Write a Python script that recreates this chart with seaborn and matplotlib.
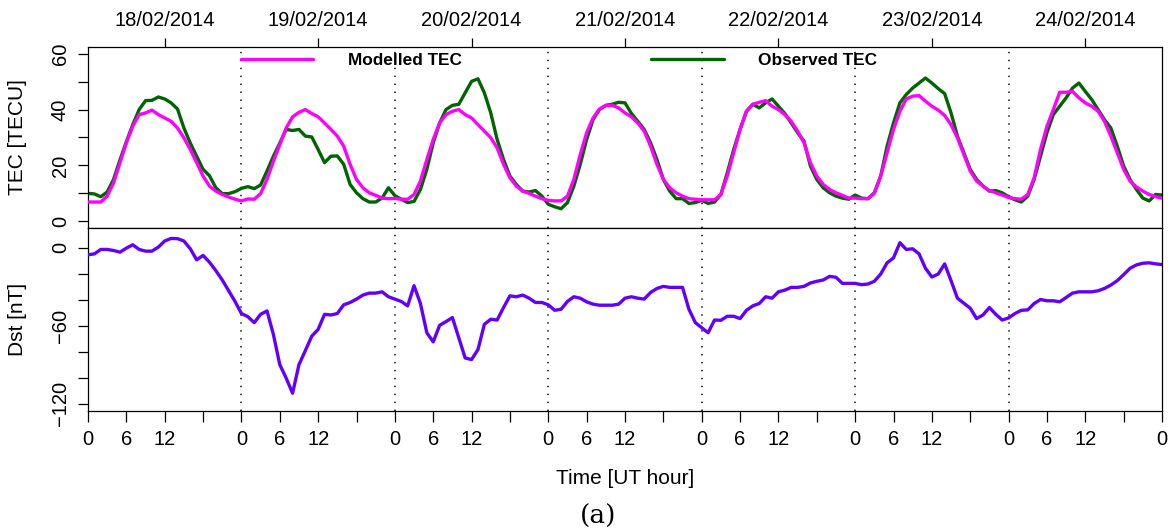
import numpy as np
import pandas as pd
import matplotlib
matplotlib.use("Agg")
import matplotlib.pyplot as plt
import seaborn as sns

# ---------------- data ----------------
dates = ["18/02/2014", "19/02/2014", "20/02/2014", "21/02/2014",
         "22/02/2014", "23/02/2014", "24/02/2014"]
hours = list(range(0, 169))  # hourly samples, 7 days

observed_tec = [
    10, 9.8, 8.8, 10.5, 15, 22, 28.5, 34.6, 40, 43.2, 43.3, 44.5, 43.8, 42.4, 40.2, 33.4, 28, 23.3, 18.6, 16.3, 12, 9.9, 9.9, 10.6,
    11.8, 12.4, 11.7, 13, 18, 23.3, 28, 32.9, 32.5, 32.9, 30.5, 30.2, 25.7, 21, 23.3, 23.4, 20.4, 13.2, 10.2, 8.1, 6.9, 6.9, 8.3, 12,
    9.2, 7.9, 6.7, 7.1, 11.4, 18.6, 28.1, 35.2, 40, 41.5, 41.9, 46, 50.1, 51, 46, 38.8, 29.3, 22.1, 16.2, 13.2, 10.8, 10.5, 11, 9,
    6.1, 5.2, 4.5, 6.7, 12.6, 20.4, 29.3, 36.4, 40, 41.5, 41.9, 42.6, 42.4, 38.6, 35.8, 32.9, 28.1, 22.1, 15, 10.8, 8.1, 8.1, 6.4, 6.7,
    7.5, 6.4, 6.9, 9.6, 17.4, 25.7, 32.9, 39.4, 41.9, 40.6, 42.4, 43.8, 41.2, 38.6, 35.2, 31.7, 28.7, 19.8, 15, 12, 10.2, 9, 8.3, 7.9,
    9.4, 8.3, 8.1, 10.2, 16.2, 26.9, 35.2, 42.4, 45.4, 47.7, 49.5, 51.3, 49.5, 47.5, 45.7, 38.8, 30.5, 24.5, 18.6, 15, 12.6, 10.8, 11, 10.2,
    8.8, 7.7, 6.9, 9, 15, 23.3, 31.7, 38.2, 41.2, 44.2, 47.7, 49.5, 46.5, 43.6, 40, 36.4, 33.4, 26.9, 19.8, 15, 11.4, 8.3, 7.3, 9.6,
    9.4,
]

modelled_tec = [
    6.9, 6.9, 6.9, 9, 13.8, 21, 28.1, 34, 38.2, 38.8, 39.8, 38.2, 37, 35.8, 33.4, 29.9, 25.7, 21, 16.2, 12.6, 10.8, 9.6, 8.7, 7.9,
    7.3, 8.0, 7.9, 9.9, 15, 21.5, 27.5, 33.4, 37.4, 39, 40, 38.6, 37.4, 35.2, 32.9, 30.5, 26.9, 20.4, 15, 12, 10.2, 9.3, 8.3, 8.1,
    8.2, 7.9, 7.9, 9.6, 14.4, 22.1, 29.3, 35.2, 38.2, 39.4, 40, 38.2, 37, 34.6, 32.3, 29.9, 26.3, 20.4, 15.6, 12.6, 10.8, 10, 9, 8.1,
    7.5, 7.3, 7.3, 9, 15, 23.9, 31.7, 37, 40.2, 41.5, 41.5, 40.6, 38.8, 37.4, 35.2, 32.3, 26.9, 20.4, 15, 12, 10.2, 9, 8.1, 7.9,
    7.7, 7.7, 7.7, 9.6, 16.2, 24.5, 32.9, 39.4, 41.9, 42.6, 43.2, 41.2, 40, 38.2, 35.8, 32.3, 28.1, 21, 16.2, 13.2, 11.4, 10.2, 9.3, 8.3,
    8.3, 8.1, 8.1, 10, 16.2, 24.5, 32.9, 39.4, 43.8, 44.8, 45, 43, 41.2, 39.8, 37.9, 34.6, 29.9, 23.9, 18, 14.4, 12.6, 11, 10.2, 9.4,
    8.5, 8.1, 7.9, 9.6, 15.6, 25.7, 34, 40, 46.2, 46.2, 46.5, 44.2, 42.4, 41.2, 39.4, 35.8, 30.5, 24.5, 18.6, 14.4, 12.3, 10.8, 9.6, 8.8,
    8.3,
]

dst = [
    -5.4, -4.7, -1.3, -1.3, -2.1, -3.4, -0.3, 2.3, -1.3, -2.6, -2.6, 0.5, 5.2, 7.2, 7, 5.2, -0.8, -9.3, -5.9, -11.1, -17.6, -24.8, -33.1, -41.3,
    -50.6, -53, -57.6, -51.2, -48.6, -66.7, -89.9, -100.3, -111.9, -89.9, -79.1, -68, -62.8, -51.2, -51.7, -50.6, -43.9, -42.1, -39.5, -36.4, -34.9, -34.9, -33.9, -37.7,
    -39.5, -41.3, -44.7, -29.2, -42.9, -65.4, -72.4, -59.7, -56.8, -53.7, -69.3, -84.8, -86, -78.3, -58.9, -55, -55.6, -46, -37, -37.7, -36.4, -38.8, -42.1, -42.1,
    -43.9, -48.1, -47.3, -41.3, -37.7, -38.8, -41.6, -43.4, -44.2, -44.2, -44.2, -43.4, -38.8, -37.7, -38.8, -39.5, -34.4, -31.3, -29.7, -30.5, -30.5, -30.5, -47.3, -57.6,
    -61.5, -65.4, -55.6, -55.8, -52.7, -52.7, -54.5, -48.1, -44.7, -42.9, -37.7, -38.8, -33.9, -32.6, -30.5, -30.5, -29.7, -27.1, -25.8, -24.8, -22, -22.7, -27.4, -27.4,
    -27.4, -28.4, -27.9, -25.8, -20.2, -11.6, -7.8, 3.9, -1.3, -0.8, -4.7, -15.8, -22.5, -20.2, -12.4, -25.3, -38.8, -42.6, -46.5, -54.5, -51.7, -46, -51.2, -55.6,
    -54, -50.6, -48.1, -47.8, -42.9, -39.8, -40.8, -40.8, -41.6, -38.2, -34.9, -33.9, -33.9, -33.9, -33.1, -31.3, -28.7, -25.3, -20.7, -15.8, -13.2, -11.9, -11.6, -12.4,
    -12.9,
]

hour_ticks = list(range(0, 169, 6))
hour_tick_labels = ["0", "6", "12", ""] * 7 + ["0"]
day_boundaries = [24, 48, 72, 96, 120, 144]
date_centers = [12, 36, 60, 84, 108, 132, 156]

tec_ticks = [0, 10, 20, 30, 40, 50, 60]
tec_tick_labels = ["0", "", "20", "", "40", "", "60"]
dst_ticks = [-120, -100, -80, -60, -40, -20, 0]
dst_tick_labels = ["\u2212120", "", "", "\u221260", "", "", "0"]

df = pd.DataFrame({"hour": hours, "Observed TEC": observed_tec,
                   "Modelled TEC": modelled_tec, "Dst": dst})

# ---------------- style ----------------
sns.set_theme(style="ticks")
plt.rcParams["font.family"] = ["Liberation Sans", "DejaVu Sans"]
plt.rcParams["axes.linewidth"] = 0.9
plt.rcParams["axes.edgecolor"] = "black"
plt.rcParams["text.color"] = "black"
plt.rcParams["axes.labelcolor"] = "black"
plt.rcParams["xtick.color"] = "black"
plt.rcParams["ytick.color"] = "black"
plt.rcParams["xtick.labelcolor"] = "black"
plt.rcParams["ytick.labelcolor"] = "black"

fig = plt.figure(figsize=(11.74, 5.31), dpi=100)
fig.patch.set_facecolor("white")
ax1 = fig.add_axes([0.07496, 0.57062, 0.91482, 0.34087])
ax2 = fig.add_axes([0.07496, 0.22693, 0.91482, 0.34369])

MAG = "#FF00FF"
GRN = "#006400"
PUR = "#6200FF"

# ---------------- top panel: TEC ----------------
sns.lineplot(data=df, x="hour", y="Modelled TEC", ax=ax1, color=MAG,
             linewidth=2.4, label="Modelled TEC", zorder=3)
sns.lineplot(data=df, x="hour", y="Observed TEC", ax=ax1, color=GRN,
             linewidth=2.4, label="Observed TEC", zorder=2)
for d in day_boundaries:
    ax1.axvline(d, color="black", linewidth=1.1, linestyle=(0, (0.9, 4.3)), zorder=1)

ax1.set_xlim(0, 168)
ax1.set_ylim(-2.4, 62.4)
ax1.set_yticks(tec_ticks)
ax1.set_yticklabels(tec_tick_labels, rotation=90, va="center", fontsize=14.5, color="black")
ax1.set_xticks(date_centers)
ax1.set_xticklabels(dates, fontsize=14.5, color="black")
ax1.tick_params(axis="x", top=True, labeltop=True, bottom=False,
                labelbottom=False, direction="out", length=6.5, width=0.9, pad=6, colors="black")
ax1.tick_params(axis="y", direction="out", length=7, width=0.9, pad=6, colors="black")
ax1.set_xlabel("")
ax1.set_ylabel("TEC [TECU]", fontsize=15, va="center", color="black")
ax1.yaxis.set_label_coords(-0.0652, 0.5)
for s in ax1.spines.values():
    s.set_visible(True)
    s.set_color("black")

leg = ax1.legend(loc="center left", bbox_to_anchor=(0.1425, 0.928), ncol=2,
                 frameon=False, borderpad=0, borderaxespad=0,
                 handlelength=4.2, handletextpad=2.0, columnspacing=11.0,
                 prop={"family": "Liberation Sans", "weight": "bold", "size": 12.4})
for t in leg.get_texts():
    t.set_color("black")

# ---------------- bottom panel: Dst ----------------
sns.lineplot(data=df, x="hour", y="Dst", ax=ax2, color=PUR, linewidth=2.4, zorder=3)
for d in day_boundaries:
    ax2.axvline(d, color="black", linewidth=1.1, linestyle=(0, (0.9, 4.3)), zorder=1)

ax2.set_xlim(0, 168)
ax2.set_ylim(-125.2, 15.2)
ax2.set_yticks(dst_ticks)
ax2.set_yticklabels(dst_tick_labels, rotation=90, va="center", fontsize=14.5, color="black")
ax2.set_xticks(hour_ticks)
ax2.set_xticklabels(hour_tick_labels, fontsize=14.5, color="black")
ax2.tick_params(axis="x", direction="out", length=8, width=0.9, pad=6, colors="black")
ax2.tick_params(axis="y", direction="out", length=7, width=0.9, pad=6, colors="black")
ax2.set_ylabel("Dst [nT]", fontsize=15, va="center", color="black")
ax2.yaxis.set_label_coords(-0.0652, 0.5)
ax2.set_xlabel("Time [UT hour]", fontsize=15, va="center", color="black")
ax2.xaxis.set_label_coords(0.5, -0.37)
for s in ax2.spines.values():
    s.set_visible(True)
    s.set_color("black")

fig.text(598 / 1174, 1 - 516 / 531, "(a)", ha="center", va="center", color="black",
         fontsize=19, family=["DejaVu Serif", "Liberation Serif"])

fig.savefig("out.png", dpi=100, facecolor="white")
